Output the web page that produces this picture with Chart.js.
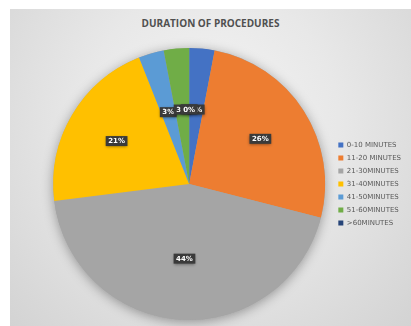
<!DOCTYPE html>
<html>
<head>
<meta charset="utf-8">
<script src="https://cdn.jsdelivr.net/npm/chart.js@4.4.0/dist/chart.umd.min.js"></script>
<style>
html, body { margin: 0; padding: 0; background: #fff; }
#wrap { position: relative; width: 411px; height: 326px; overflow: hidden; }
#bg {
    position: absolute; left: 10px; top: 9px; right: 0; bottom: 0;
    background: radial-gradient(ellipse at 50% 35%, #f4f4f4 0%, #e8e8e8 45%, #d3d3d3 100%);
}
#title {
    position: absolute; left: 10px; right: 0; top: 16px;
    text-align: center; font-family: 'Open Sans', sans-serif;
    font-weight: bold; font-size: 10px; color: #505050;
}
canvas { position: absolute; left: 0; top: 0; }
</style>
</head>
<body>
<div id="wrap">
    <div id="bg"></div>
    <div id="title">DURATION OF PROCEDURES</div>
    <canvas id="pie" width="411" height="326"></canvas>
</div>
<script>
// categories and shares (percent)
const categorias = ['0-10 MINUTES', '11-20 MINUTES', '21-30MINUTES', '31-40MINUTES', '41-50MINUTES', '51-60MINUTES', '>60MINUTES'];
const valores = [3, 26, 44, 21, 3, 3, 0];
const colores = ['#4472C4', '#ED7D31', '#A5A5A5', '#FFC000', '#5B9BD5', '#70AD47', '#264478'];

// soft shadow under the whole pie
const sombraPie = {
    id: 'sombraPie',
    beforeDatasetsDraw(chart) {
        const arc = chart.getDatasetMeta(0).data[0];
        if (!arc) return;
        const { x, y, outerRadius } = arc.getProps(['x', 'y', 'outerRadius'], true);
        const ctx = chart.ctx;
        ctx.save();
        ctx.shadowColor = 'rgba(0,0,0,0.35)';
        ctx.shadowBlur = 12;
        ctx.shadowOffsetY = 2;
        ctx.beginPath();
        ctx.arc(x, y, outerRadius, 0, Math.PI * 2);
        ctx.fillStyle = '#a5a5a5';
        ctx.fill();
        ctx.restore();
    }
};

// dark boxed percentage labels, drawn in series order (last one on top)
const etiquetas = {
    id: 'etiquetas',
    afterDatasetsDraw(chart) {
        const ctx = chart.ctx;
        const meta = chart.getDatasetMeta(0);
        const total = valores.reduce((a, b) => a + b, 0);
        ctx.save();
        ctx.font = 'bold 7px "DejaVu Sans", sans-serif';
        ctx.textAlign = 'center';
        ctx.textBaseline = 'middle';
        meta.data.forEach((arc, i) => {
            const p = arc.getProps(['x', 'y', 'startAngle', 'endAngle', 'outerRadius'], true);
            const mid = (p.startAngle + p.endAngle) / 2;
            // bigger slices get their label a little further out, like the original
            const r = p.outerRadius * (valores[i] > 15 && valores[i] < 40 ? 0.62 : 0.55);
            const lx = p.x + Math.cos(mid) * r;
            const ly = p.y + Math.sin(mid) * r;
            const txt = Math.round(valores[i] / total * 100) + '%';
            const w = ctx.measureText(txt).width + 5;
            const h = 10;
            ctx.shadowColor = 'rgba(0,0,0,0.45)';
            ctx.shadowBlur = 3;
            ctx.shadowOffsetY = 1;
            ctx.fillStyle = '#3a3a3a';
            ctx.fillRect(lx - w / 2, ly - h / 2, w, h);
            ctx.shadowColor = 'transparent';
            ctx.fillStyle = '#ffffff';
            ctx.fillText(txt, lx, ly + 0.5);
        });
        ctx.restore();
    }
};

new Chart(document.getElementById('pie').getContext('2d'), {
    type: 'pie',
    data: {
        labels: categorias,
        datasets: [{
            data: valores,
            backgroundColor: colores,
            borderWidth: 0
        }]
    },
    options: {
        responsive: false,
        animation: false,
        layout: {
            padding: { left: 46, top: 48, bottom: 6, right: 0 }
        },
        plugins: {
            title: { display: false },
            tooltip: { enabled: false },
            legend: {
                position: 'right',
                align: 'center',
                labels: {
                    boxWidth: 5,
                    boxHeight: 5,
                    padding: 6,
                    color: '#595959',
                    font: { family: 'DejaVu Sans', size: 7 }
                }
            }
        }
    },
    plugins: [sombraPie, etiquetas]
});
</script>
</body>
</html>
